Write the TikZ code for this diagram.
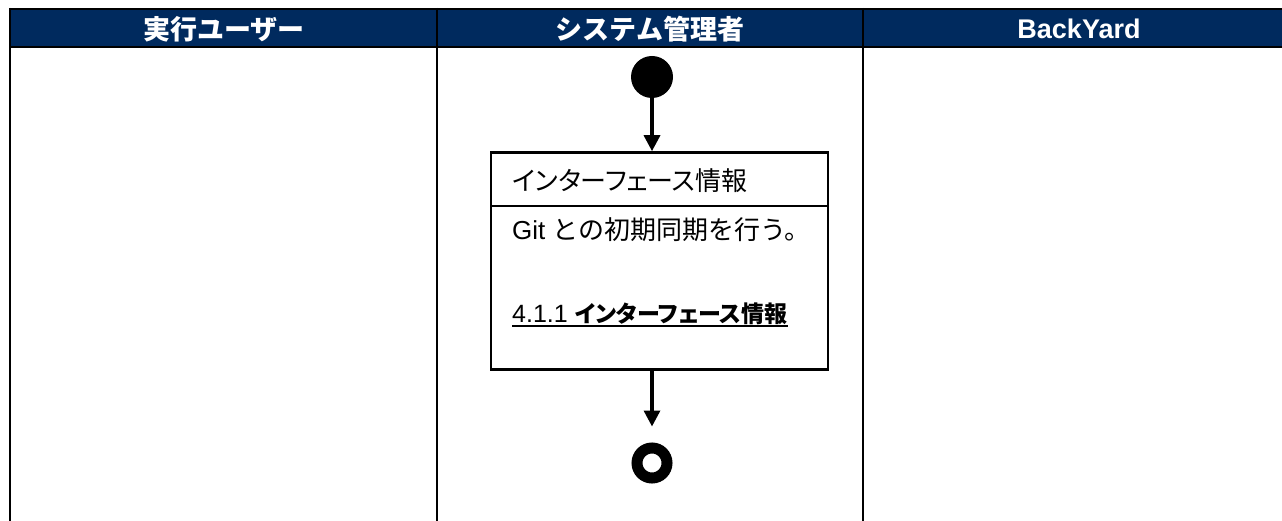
\documentclass[tikz,border=0pt]{standalone}
\usepackage{fontspec}
\setmainfont{Liberation Sans}
\newfontfamily\jp[RawFeature=+palt]{Noto Sans CJK JP}
\newfontfamily\jph{Noto Sans CJK JP}
\usetikzlibrary{arrows.meta}
\definecolor{navy}{HTML}{002A5E}
\tikzset{
  lane/.style={line width=2pt, draw=black},
  hdr/.style={text=white, font=\fontsize{27}{30}\selectfont\bfseries, inner sep=0pt, anchor=center},
  body/.style={font=\fontsize{25}{30}\selectfont, inner sep=0pt, anchor=base west},
  flow/.style={line width=3.4pt, -{Triangle[length=16pt,width=16pt]}},
  actbox/.style={draw, line width=2.6pt, minimum width=337pt, minimum height=217pt, inner sep=0pt},
}
\begin{document}
\begin{tikzpicture}[x=1pt,y=-1pt]
\useasboundingbox (0,0) rectangle (1282,521);
% header band
\fill[navy] (10,9) rectangle (1282,47);
\draw[lane] (9,9) -- (1282,9);
\draw[lane] (9,47) -- (1282,47);
\draw[lane] (10,8) -- (10,521);
\draw[lane] (437,8) -- (437,521);
\draw[lane] (863,8) -- (863,521);
\node[hdr] (h1) at (224,29) {\jph\bfseries 実行ユーザー};
\node[hdr] (h2) at (650,29) {\jph\bfseries システム管理者};
\node[hdr] (h3) at (1079,29) {BackYard};
% start
\node[circle, fill=black, minimum size=42pt, inner sep=0pt] (start) at (652,77) {};
% activity box
\node[actbox] (act) at (659.5,261) {};
\coordinate (dl) at (491,206);
\coordinate (dr) at (828,206);
\draw[line width=2.6pt] (dl) -- (dr);
\node[body] (title) at (512,191) {\fontsize{26}{30}\selectfont\jp インターフェース情報};
\node[body] (desc) at (512,240) {\fontsize{26}{30}\selectfont Git {\jph との初期同期を行う。}};
\node[body] (link) at (512,322) {4.1.1 {\fontsize{23}{30}\selectfont\jp\bfseries インターフェース情報}};
\draw[line width=1.6pt] ([yshift=-4pt]link.base west) -- ([yshift=-4pt]link.base east);
% end
\node[circle, draw=black, line width=11pt, minimum size=30pt, inner sep=0pt] (end) at (652,463) {};
% flows
\draw[flow] (start.south) -- (start.south |- act.north);
\draw[flow, shorten >=16pt] (act.south -| end.north) -- (end.north);
\end{tikzpicture}
\end{document}
